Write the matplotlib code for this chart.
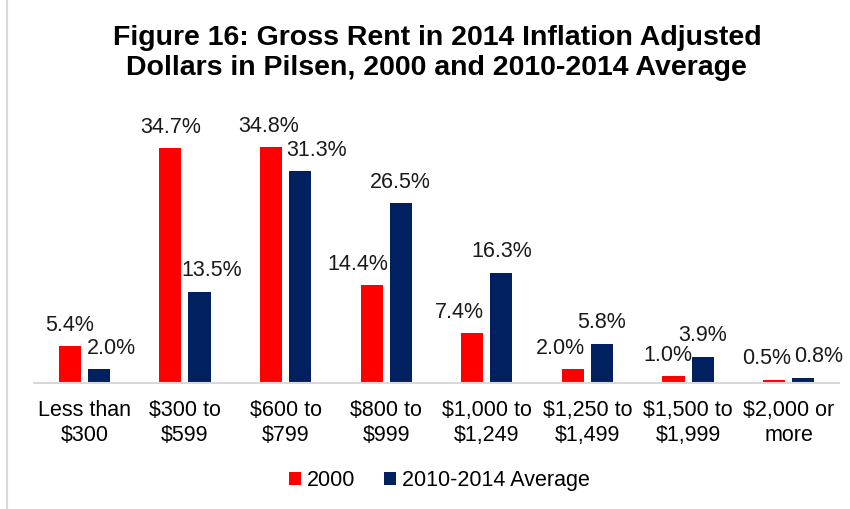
import matplotlib.pyplot as plt
from matplotlib.lines import Line2D
import numpy as np

plt.rcParams['font.family'] = ['Liberation Sans', 'DejaVu Sans']

categories = ['Less than\n$300', '$300 to\n$599', '$600 to\n$799', '$800 to\n$999',
              '$1,000 to\n$1,249', '$1,250 to\n$1,499', '$1,500 to\n$1,999', '$2,000 or\nmore']
rent_2000 = [5.4, 34.7, 34.8, 14.4, 7.4, 2.0, 1.0, 0.5]
rent_2010_2014 = [2.0, 13.5, 31.3, 26.5, 16.3, 5.8, 3.9, 0.8]
series_names = ['2000', '2010-2014 Average']

# label nudges (points) so the labels don't collide, like the excel original
dx_2000 = [0, 0, -2, -10, -9, -9, -4, -5]
dx_2010 = [9, 9, 12, 0, 0, 0, 0, 11]

red = '#ff0000'
navy = '#002060'

fig = plt.figure(figsize=(8.5, 5.09), dpi=100)
ax = fig.add_axes([0.04, 0.2475, 0.947, 0.5325])

x = np.arange(len(categories))
w = 0.22
off = 0.145
b1 = ax.bar(x - off, rent_2000, w, color=red, label=series_names[0])
b2 = ax.bar(x + off, rent_2010_2014, w, color=navy, label=series_names[1])

for bars, vals, dxs in [(b1, rent_2000, dx_2000), (b2, rent_2010_2014, dx_2010)]:
    for b, v, d in zip(bars, vals, dxs):
        ax.annotate('%.1f%%' % v, (b.get_x() + b.get_width() / 2, v),
                    xytext=(d, 15), textcoords='offset points',
                    ha='center', va='center', fontsize=15.5, color='#1a1a1a')

ax.set_xlim(-0.5, len(categories) - 0.5)
ax.set_ylim(0, 40)
ax.set_yticks([])
ax.set_xticks(x)
ax.set_xticklabels(categories, fontsize=15.5, linespacing=1.25)
ax.tick_params(axis='x', length=0, pad=12)
for s in ['top', 'right', 'left']:
    ax.spines[s].set_visible(False)
ax.spines['bottom'].set_color('#d9d9d9')
ax.spines['bottom'].set_linewidth(1.5)

fig.text(0.514, 0.896, 'Figure 16: Gross Rent in 2014 Inflation Adjusted\nDollars in Pilsen, 2000 and 2010-2014 Average',
         ha='center', va='center', fontsize=20.5, fontweight='bold', linespacing=1.2)

fig.legend(loc='center', bbox_to_anchor=(0.517, 0.056), ncol=2, frameon=False,
           fontsize=15.5, handlelength=0.55, handleheight=0.55, handletextpad=0.3,
           columnspacing=1.3)

fig.add_artist(Line2D([0.008, 0.008], [0, 1], color='#d9d9d9', lw=1.5))

fig.savefig('out.png', dpi=100)
